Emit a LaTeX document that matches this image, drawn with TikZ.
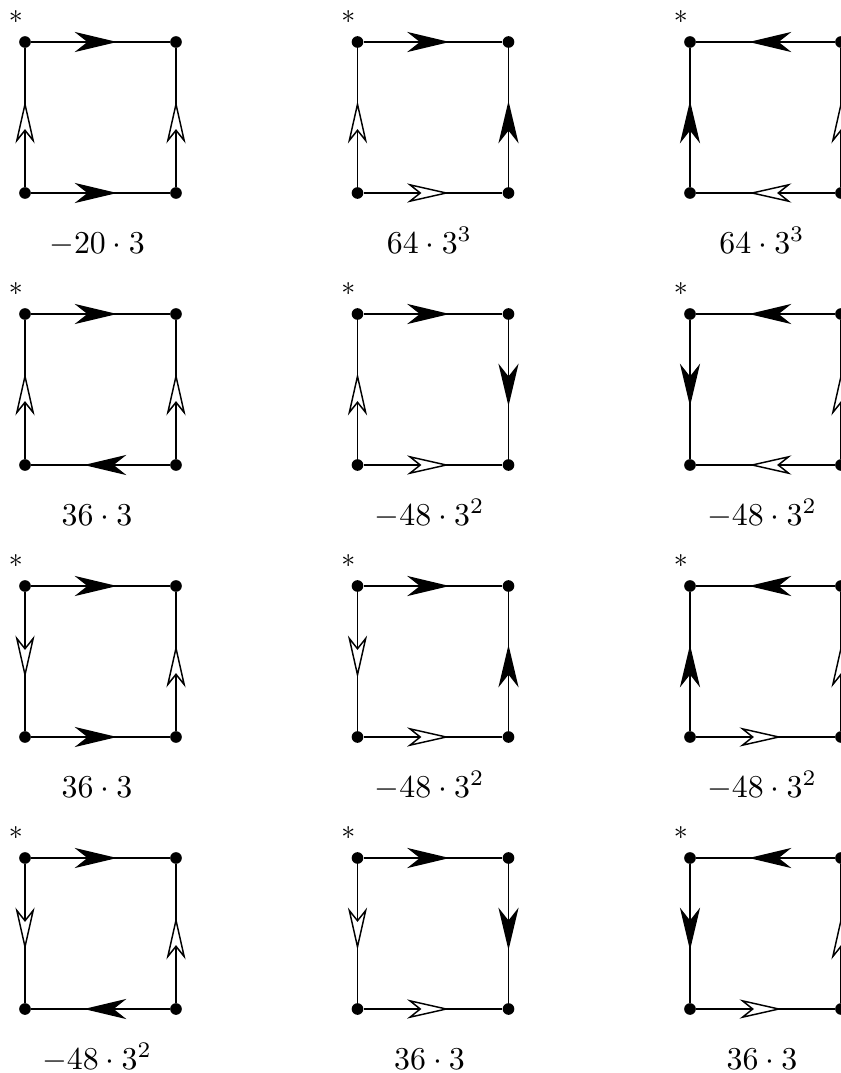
\documentclass[tikz,border=0pt]{standalone}
\usetikzlibrary{arrows.meta,decorations.markings}

\begin{document}
\begin{tikzpicture}[
  x=0.013245cm,y=-0.013245cm,
  cheia/.tip={Stealth[length=16pt,width=7.6pt,inset=4.8pt]},
  vazia/.tip={Stealth[length=16pt,width=7.2pt,inset=4.5pt,fill=white]},
  ponto/.style={circle,fill,inner sep=0pt,minimum size=4.4pt},
  aresta/.style={line width=0.55pt},
  ff/.style={aresta,postaction={decorate,decoration={markings,
    mark=at position 0.62 with {\arrow{cheia}}}}},
  fb/.style={aresta,postaction={decorate,decoration={markings,
    mark=at position 0.38 with {\arrowreversed{cheia}}}}},
  af/.style={aresta,postaction={decorate,decoration={markings,
    mark=at position 0.62 with {\arrow{vazia}}}}},
  ab/.style={aresta,postaction={decorate,decoration={markings,
    mark=at position 0.38 with {\arrowreversed{vazia}}}}},
  rotulo/.style={anchor=base,scale=1.2},
  marca/.style={anchor=base,inner sep=0pt,scale=1.05}
]
\useasboundingbox (0,0) rectangle (841,1073);

% linha/coluna/cima/baixo/esquerda/direita/valor
\foreach \r/\c/\cima/\baixo/\esq/\dir/\val in {
  0/0/ff/ff/af/af/{-20\cdot 3},
  0/1/ff/af/af/ff/{64\cdot 3^3},
  0/2/fb/ab/ff/af/{64\cdot 3^3},
  1/0/ff/fb/af/af/{36\cdot 3},
  1/1/ff/af/af/fb/{-48\cdot 3^2},
  1/2/fb/ab/fb/af/{-48\cdot 3^2},
  2/0/ff/ff/ab/af/{36\cdot 3},
  2/1/ff/af/ab/ff/{-48\cdot 3^2},
  2/2/fb/af/ff/af/{-48\cdot 3^2},
  3/0/ff/fb/ab/af/{-48\cdot 3^2},
  3/1/ff/af/ab/fb/{36\cdot 3},
  3/2/fb/af/fb/af/{36\cdot 3}}{
  \node[ponto] (a\r\c) at (25+332.5*\c,42+272*\r) {};
  \node[ponto] (b\r\c) at (176+332.5*\c,42+272*\r) {};
  \node[ponto] (c\r\c) at (25+332.5*\c,193+272*\r) {};
  \node[ponto] (d\r\c) at (176+332.5*\c,193+272*\r) {};
  \draw[\cima] (a\r\c) -- (b\r\c);
  \draw[\baixo] (c\r\c) -- (d\r\c);
  \draw[\esq] (c\r\c) -- (a\r\c);
  \draw[\dir] (d\r\c) -- (b\r\c);
  \node[marca] (s\r\c) at ([xshift=-0.12cm,yshift=0.24cm]a\r\c.center) {$*$};
  \node[rotulo] (v\r\c) at (97+332.5*\c,253+272*\r) {$\val$};
}
\end{tikzpicture}
\end{document}
